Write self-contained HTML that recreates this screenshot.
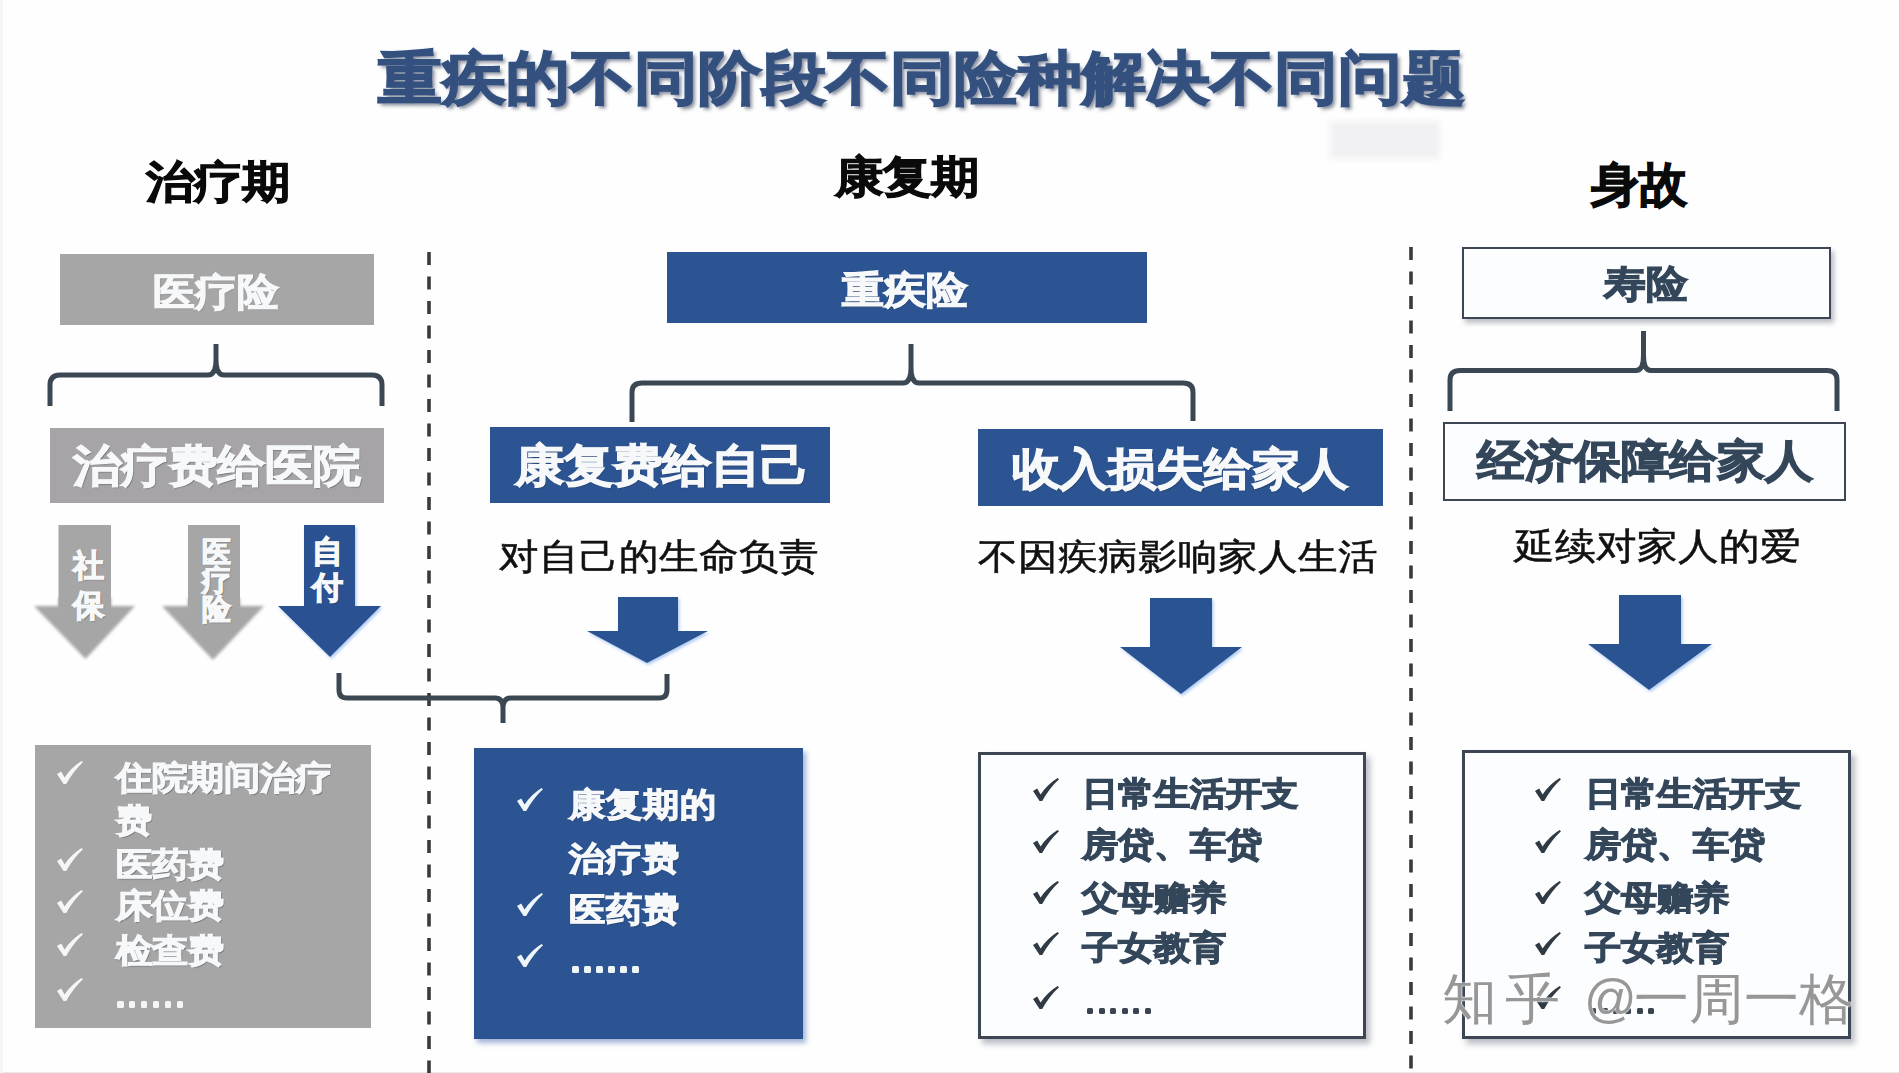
<!DOCTYPE html>
<html>
<head>
<meta charset="utf-8">
<style>
*{margin:0;padding:0;box-sizing:border-box}
html,body{width:1899px;height:1073px;overflow:hidden;background:#fefefe}
body{position:relative;font-family:"Liberation Sans",sans-serif}
.a{position:absolute;white-space:nowrap}
.t{position:absolute;white-space:nowrap;line-height:1;transform:scaleY(0.91);transform-origin:50% 52%}
.box>span{display:inline-block;transform:scaleY(0.91)}
.b{font-weight:bold}
.box{position:absolute;display:flex;align-items:center;justify-content:center}
.blue{background:#2c5492}
.grey{background:#a6a6a6}
.wt{color:#f6f8fa;font-weight:bold;-webkit-text-stroke:1.3px #f6f8fa;text-shadow:1.2px 1.2px 1.2px rgba(30,40,55,0.55)}
.grey .wt,.gw{text-shadow:1px 1px 1px rgba(90,90,90,0.35)!important}
.dk{color:#34465a;font-weight:bold;-webkit-text-stroke:1.3px #34465a}
svg{position:absolute;left:0;top:0;overflow:visible}
.wmk{transform:none;color:#979797;text-shadow:0 0 1.5px #fff,0 0 1.5px #fff,0 0 1px #fff}
</style>
</head>
<body>

<div class="a" style="left:0;top:1072px;width:1899px;height:1px;background:#e9e9e9"></div>
<div class="a" style="left:0;top:0;width:3px;height:1073px;background:#f5f5f5"></div>
<!-- faint block -->
<div class="a" style="left:1330px;top:121px;width:110px;height:38px;background:#f1f1f3;filter:blur(3px)"></div>

<!-- Title -->
<div class="t b" style="left:378px;top:47px;font-size:63.5px;color:#34507e;-webkit-text-stroke:1.8px #34507e;text-shadow:3px 3px 4px rgba(20,30,60,0.5),0 0 3px rgba(170,210,240,0.6)">重疾的不同阶段不同险种解决不同问题</div>

<!-- Column headers -->
<div class="t b" style="left:146px;top:158px;font-size:48px;color:#0a0a0a;-webkit-text-stroke:1.2px #0a0a0a">治疗期</div>
<div class="t b" style="left:835px;top:152.5px;font-size:48px;color:#0a0a0a;-webkit-text-stroke:1.2px #0a0a0a">康复期</div>
<div class="t b" style="left:1591px;top:161px;font-size:48px;transform:none;color:#0a0a0a;-webkit-text-stroke:1.2px #0a0a0a">身故</div>

<!-- dashed lines -->
<svg width="1899" height="1073">
  <line x1="429" y1="252" x2="429" y2="1073" stroke="#3a3a3a" stroke-width="3.6" stroke-dasharray="13 11.5"/>
  <line x1="1411" y1="247" x2="1411" y2="1073" stroke="#3a3a3a" stroke-width="3.6" stroke-dasharray="13 11.5"/>
</svg>

<!-- ============ LEFT COLUMN ============ -->
<div class="box grey" style="left:60px;top:254px;width:314px;height:71px"><span class="wt" style="font-size:41.5px;line-height:1;position:relative;top:2px;left:-1px">医疗险</span></div>

<!-- bracket 1 -->
<svg width="1899" height="1073">
  <path d="M50,406 L50,385 Q50,375 60,375 L208,375 Q216,375 216,360 L216,344 M216,360 Q216,375 224,375 L372,375 Q382,375 382,385 L382,406" fill="none" stroke="#3b4853" stroke-width="5"/>
</svg>

<div class="box" style="left:50px;top:428px;width:334px;height:75px;background:#a7a4a8"><span class="wt" style="font-size:48px;line-height:1">治疗费给医院</span></div>

<!-- grey arrows -->
<svg width="1899" height="1073">
  <defs>
    <filter id="sh" x="-20%" y="-20%" width="140%" height="140%"><feGaussianBlur stdDeviation="1.6"/></filter>
    <filter id="gl" x="-20%" y="-20%" width="150%" height="150%"><feDropShadow dx="1.5" dy="2" stdDeviation="1.8" flood-color="#8fb6ee" flood-opacity="0.7"/></filter>
  </defs>
    <polygon points="34,606 58.5,606 58.5,598 111,598 111,606 135,606 85.5,659" fill="#a6a6a6" filter="url(#sh)"/>
    <polygon points="162,606 188,606 188,598 240,598 240,606 264,606 213,660" fill="#a6a6a6" filter="url(#sh)"/>
  <rect x="58.5" y="525" width="52.5" height="82" fill="#a6a6a6"/>
  <rect x="188" y="525" width="52" height="82" fill="#a6a6a6"/>
  <polygon points="304,525 355,525 355,606 381,606 330,657 278,606 304,606" fill="#2b5191" filter="url(#gl)"/>
</svg>
<div class="t wt" style="left:70px;top:546px;font-size:31px;line-height:40px;transform:none;width:36px;text-align:center;white-space:normal">社<br>保</div>
<div class="t wt" style="left:198.5px;top:537.5px;font-size:28.5px;line-height:28.7px;transform:none;width:36px;text-align:center;white-space:normal">医<br>疗<br>险</div>
<div class="t wt" style="left:309px;top:534px;font-size:31px;line-height:36px;transform:none;width:36px;text-align:center;white-space:normal">自<br>付</div>

<!-- bracket bottom-left -->
<svg width="1899" height="1073">
  <path d="M339,673 L339,690 Q339,698 347,698 L495,698 Q503,698 503,708 L503,723 M503,708 Q503,698 511,698 L659,698 Q667,698 667,690 L667,674" fill="none" stroke="#3b4853" stroke-width="5"/>
</svg>

<!-- grey list -->
<div class="a grey" style="left:35px;top:745px;width:336px;height:283px"></div>

<!-- ============ MIDDLE ============ -->
<div class="box blue" style="left:667px;top:252px;width:480px;height:71px"><span class="wt" style="font-size:42px;line-height:1;position:relative;top:2px;left:-2px">重疾险</span></div>

<svg width="1899" height="1073">
  <path d="M632,422 L632,392 Q632,383 642,383 L903,383 Q911,383 911,368 L911,344 M911,368 Q911,383 919,383 L1183,383 Q1193,383 1193,392 L1193,421" fill="none" stroke="#3b4853" stroke-width="5"/>
</svg>

<div class="box blue" style="left:490px;top:427px;width:340px;height:76px"><span class="wt" style="font-size:49px;line-height:1;position:relative;left:2px">康复费给自己</span></div>
<div class="box blue" style="left:978px;top:429px;width:405px;height:77px"><span class="wt" style="font-size:48px;line-height:1;position:relative;top:1px;left:-1px">收入损失给家人</span></div>

<div class="t" style="left:499px;top:536px;font-size:40px;color:#111;-webkit-text-stroke:0.6px #111">对自己的生命负责</div>
<div class="t" style="left:978px;top:536px;font-size:40px;color:#111;-webkit-text-stroke:0.6px #111">不因疾病影响家人生活</div>

<svg width="1899" height="1073">
  <polygon points="618,597 678,597 678,631 708,631 647,663 587,631 618,631" fill="#2b5391" filter="url(#gl)"/>
  <polygon points="1150,598 1212,598 1212,647 1242,647 1181,694 1120,647 1150,647" fill="#2b5391" filter="url(#gl)"/>
  <polygon points="1619,595 1681,595 1681,644 1712,644 1649,690 1588,644 1619,644" fill="#2b5391" filter="url(#gl)"/>
</svg>

<!-- blue list -->
<div class="a blue" style="left:474px;top:747.5px;width:328.5px;height:291.5px;box-shadow:3px 4px 5px rgba(70,110,180,0.5)"></div>

<!-- white list mid -->
<div class="a" style="left:978px;top:752px;width:388px;height:287px;border:3px solid #3c4654;background:#fcfdfe;box-shadow:4px 5px 6px rgba(60,70,90,0.35)"></div>

<!-- ============ RIGHT ============ -->
<div class="box" style="left:1462px;top:247px;width:369px;height:72px;border:2px solid #3c4654;background:#fcfdfe;box-shadow:3px 4px 5px rgba(60,70,90,0.35)"><span class="dk" style="font-size:41.5px;line-height:1;position:relative;top:1px;left:-1px">寿险</span></div>

<svg width="1899" height="1073">
  <path d="M1450,411 L1450,380 Q1450,370.5 1460,370.5 L1636,370.5 Q1643.5,370.5 1643.5,355 L1643.5,331 M1643.5,355 Q1643.5,370.5 1651,370.5 L1827,370.5 Q1837,370.5 1837,380 L1837,411" fill="none" stroke="#3b4853" stroke-width="5"/>
</svg>

<div class="box" style="left:1443px;top:422px;width:403px;height:79px;border:2px solid #3c4654;background:#fcfdfe"><span class="dk" style="font-size:48px;line-height:1;position:relative;top:-1px">经济保障给家人</span></div>

<div class="t" style="left:1514px;top:526px;font-size:40.5px;color:#111;-webkit-text-stroke:0.6px #111">延续对家人的爱</div>

<div class="a" style="left:1462px;top:750px;width:389px;height:289px;border:3px solid #3c4654;background:#fcfdfe;box-shadow:4px 5px 6px rgba(60,70,90,0.35)"></div>

<!-- LISTS -->
<svg style="left:56.5px;top:761px" width="26" height="23" viewBox="0 0 26 23"><path d="M0,13 L4.2,10.6 L7.6,16.6 Q14,6.5 24.6,0 L26,1.3 Q16.5,10 9.2,23 L6.6,23 Z" fill="#f6f6f6"/></svg>
<svg style="left:56.5px;top:847.5px" width="26" height="23" viewBox="0 0 26 23"><path d="M0,13 L4.2,10.6 L7.6,16.6 Q14,6.5 24.6,0 L26,1.3 Q16.5,10 9.2,23 L6.6,23 Z" fill="#f6f6f6"/></svg>
<svg style="left:56.5px;top:890px" width="26" height="23" viewBox="0 0 26 23"><path d="M0,13 L4.2,10.6 L7.6,16.6 Q14,6.5 24.6,0 L26,1.3 Q16.5,10 9.2,23 L6.6,23 Z" fill="#f6f6f6"/></svg>
<svg style="left:56.5px;top:933px" width="26" height="23" viewBox="0 0 26 23"><path d="M0,13 L4.2,10.6 L7.6,16.6 Q14,6.5 24.6,0 L26,1.3 Q16.5,10 9.2,23 L6.6,23 Z" fill="#f6f6f6"/></svg>
<svg style="left:56.5px;top:977.5px" width="26" height="23" viewBox="0 0 26 23"><path d="M0,13 L4.2,10.6 L7.6,16.6 Q14,6.5 24.6,0 L26,1.3 Q16.5,10 9.2,23 L6.6,23 Z" fill="#f6f6f6"/></svg>
<div class="t wt" style="left:116.3px;top:759.8px;font-size:36.4px">住院期间治疗</div>
<div class="t wt" style="left:116.3px;top:803.3px;font-size:36.4px">费</div>
<div class="t wt" style="left:116.3px;top:846.8px;font-size:36.4px">医药费</div>
<div class="t wt" style="left:116.3px;top:888.3px;font-size:36.4px">床位费</div>
<div class="t wt" style="left:116.3px;top:932.8px;font-size:36.4px">检查费</div>
<div class="a" style="left:117.0px;top:1001px;width:6.5px;height:6.5px;border-radius:1.5px;background:#f6f6f6"></div><div class="a" style="left:128.9px;top:1001px;width:6.5px;height:6.5px;border-radius:1.5px;background:#f6f6f6"></div><div class="a" style="left:140.8px;top:1001px;width:6.5px;height:6.5px;border-radius:1.5px;background:#f6f6f6"></div><div class="a" style="left:152.7px;top:1001px;width:6.5px;height:6.5px;border-radius:1.5px;background:#f6f6f6"></div><div class="a" style="left:164.6px;top:1001px;width:6.5px;height:6.5px;border-radius:1.5px;background:#f6f6f6"></div><div class="a" style="left:176.5px;top:1001px;width:6.5px;height:6.5px;border-radius:1.5px;background:#f6f6f6"></div>
<svg style="left:517px;top:788px" width="26" height="23" viewBox="0 0 26 23"><path d="M0,13 L4.2,10.6 L7.6,16.6 Q14,6.5 24.6,0 L26,1.3 Q16.5,10 9.2,23 L6.6,23 Z" fill="#eef5fb"/></svg>
<svg style="left:517px;top:893px" width="26" height="23" viewBox="0 0 26 23"><path d="M0,13 L4.2,10.6 L7.6,16.6 Q14,6.5 24.6,0 L26,1.3 Q16.5,10 9.2,23 L6.6,23 Z" fill="#eef5fb"/></svg>
<svg style="left:517px;top:944px" width="26" height="23" viewBox="0 0 26 23"><path d="M0,13 L4.2,10.6 L7.6,16.6 Q14,6.5 24.6,0 L26,1.3 Q16.5,10 9.2,23 L6.6,23 Z" fill="#eef5fb"/></svg>
<div class="t wt" style="left:569.3px;top:787.3px;font-size:36.6px">康复期的</div>
<div class="t wt" style="left:569.3px;top:841.3px;font-size:36.6px">治疗费</div>
<div class="t wt" style="left:569.3px;top:892.3px;font-size:36.6px">医药费</div>
<div class="a" style="left:572.0px;top:965.5px;width:7px;height:7px;border-radius:1.5px;background:#eef5fb"></div><div class="a" style="left:583.9px;top:965.5px;width:7px;height:7px;border-radius:1.5px;background:#eef5fb"></div><div class="a" style="left:595.8px;top:965.5px;width:7px;height:7px;border-radius:1.5px;background:#eef5fb"></div><div class="a" style="left:607.7px;top:965.5px;width:7px;height:7px;border-radius:1.5px;background:#eef5fb"></div><div class="a" style="left:619.6px;top:965.5px;width:7px;height:7px;border-radius:1.5px;background:#eef5fb"></div><div class="a" style="left:631.5px;top:965.5px;width:7px;height:7px;border-radius:1.5px;background:#eef5fb"></div>
<svg style="left:1033px;top:777.5px" width="26" height="23" viewBox="0 0 26 23"><path d="M0,13 L4.2,10.6 L7.6,16.6 Q14,6.5 24.6,0 L26,1.3 Q16.5,10 9.2,23 L6.6,23 Z" fill="#2f3a44"/></svg>
<svg style="left:1033px;top:829.5px" width="26" height="23" viewBox="0 0 26 23"><path d="M0,13 L4.2,10.6 L7.6,16.6 Q14,6.5 24.6,0 L26,1.3 Q16.5,10 9.2,23 L6.6,23 Z" fill="#2f3a44"/></svg>
<svg style="left:1033px;top:881px" width="26" height="23" viewBox="0 0 26 23"><path d="M0,13 L4.2,10.6 L7.6,16.6 Q14,6.5 24.6,0 L26,1.3 Q16.5,10 9.2,23 L6.6,23 Z" fill="#2f3a44"/></svg>
<svg style="left:1033px;top:932px" width="26" height="23" viewBox="0 0 26 23"><path d="M0,13 L4.2,10.6 L7.6,16.6 Q14,6.5 24.6,0 L26,1.3 Q16.5,10 9.2,23 L6.6,23 Z" fill="#2f3a44"/></svg>
<svg style="left:1033px;top:986px" width="26" height="23" viewBox="0 0 26 23"><path d="M0,13 L4.2,10.6 L7.6,16.6 Q14,6.5 24.6,0 L26,1.3 Q16.5,10 9.2,23 L6.6,23 Z" fill="#2f3a44"/></svg>
<div class="t dk" style="left:1082.3px;top:775.8px;font-size:36.4px">日常生活开支</div>
<div class="t dk" style="left:1082.3px;top:826.8px;font-size:36.4px">房贷、车贷</div>
<div class="t dk" style="left:1082.3px;top:879.5px;font-size:36.4px">父母赡养</div>
<div class="t dk" style="left:1082.3px;top:929.8px;font-size:36.4px">子女教育</div>
<div class="a" style="left:1087.0px;top:1008px;width:6px;height:6px;border-radius:1.5px;background:#3a4350"></div><div class="a" style="left:1098.6px;top:1008px;width:6px;height:6px;border-radius:1.5px;background:#3a4350"></div><div class="a" style="left:1110.2px;top:1008px;width:6px;height:6px;border-radius:1.5px;background:#3a4350"></div><div class="a" style="left:1121.8px;top:1008px;width:6px;height:6px;border-radius:1.5px;background:#3a4350"></div><div class="a" style="left:1133.4px;top:1008px;width:6px;height:6px;border-radius:1.5px;background:#3a4350"></div><div class="a" style="left:1145.0px;top:1008px;width:6px;height:6px;border-radius:1.5px;background:#3a4350"></div>
<svg style="left:1535px;top:777.5px" width="26" height="23" viewBox="0 0 26 23"><path d="M0,13 L4.2,10.6 L7.6,16.6 Q14,6.5 24.6,0 L26,1.3 Q16.5,10 9.2,23 L6.6,23 Z" fill="#2f3a44"/></svg>
<svg style="left:1535px;top:829.5px" width="26" height="23" viewBox="0 0 26 23"><path d="M0,13 L4.2,10.6 L7.6,16.6 Q14,6.5 24.6,0 L26,1.3 Q16.5,10 9.2,23 L6.6,23 Z" fill="#2f3a44"/></svg>
<svg style="left:1535px;top:881px" width="26" height="23" viewBox="0 0 26 23"><path d="M0,13 L4.2,10.6 L7.6,16.6 Q14,6.5 24.6,0 L26,1.3 Q16.5,10 9.2,23 L6.6,23 Z" fill="#2f3a44"/></svg>
<svg style="left:1535px;top:932px" width="26" height="23" viewBox="0 0 26 23"><path d="M0,13 L4.2,10.6 L7.6,16.6 Q14,6.5 24.6,0 L26,1.3 Q16.5,10 9.2,23 L6.6,23 Z" fill="#2f3a44"/></svg>
<svg style="left:1535px;top:986px" width="26" height="23" viewBox="0 0 26 23"><path d="M0,13 L4.2,10.6 L7.6,16.6 Q14,6.5 24.6,0 L26,1.3 Q16.5,10 9.2,23 L6.6,23 Z" fill="#2f3a44"/></svg>
<div class="t dk" style="left:1585.4px;top:775.8px;font-size:36.4px">日常生活开支</div>
<div class="t dk" style="left:1585.4px;top:826.8px;font-size:36.4px">房贷、车贷</div>
<div class="t dk" style="left:1585.4px;top:879.5px;font-size:36.4px">父母赡养</div>
<div class="t dk" style="left:1585.4px;top:929.8px;font-size:36.4px">子女教育</div>
<div class="a" style="left:1590.1px;top:1008px;width:6px;height:6px;border-radius:1.5px;background:#3a4350"></div><div class="a" style="left:1601.7px;top:1008px;width:6px;height:6px;border-radius:1.5px;background:#3a4350"></div><div class="a" style="left:1613.3px;top:1008px;width:6px;height:6px;border-radius:1.5px;background:#3a4350"></div><div class="a" style="left:1624.9px;top:1008px;width:6px;height:6px;border-radius:1.5px;background:#3a4350"></div><div class="a" style="left:1636.5px;top:1008px;width:6px;height:6px;border-radius:1.5px;background:#3a4350"></div><div class="a" style="left:1648.1px;top:1008px;width:6px;height:6px;border-radius:1.5px;background:#3a4350"></div>
<!-- /LISTS -->
<!-- watermark -->
<div class="t wmk" style="left:1442px;top:971.5px;font-size:55px">知</div>
<div class="t wmk" style="left:1505px;top:971.5px;font-size:55px">乎</div>
<div class="t wmk" style="left:1584px;top:971.5px;font-size:52px">@</div>
<div class="t wmk" style="left:1634px;top:971.5px;font-size:55px">一周一格</div>
</body>
</html>
